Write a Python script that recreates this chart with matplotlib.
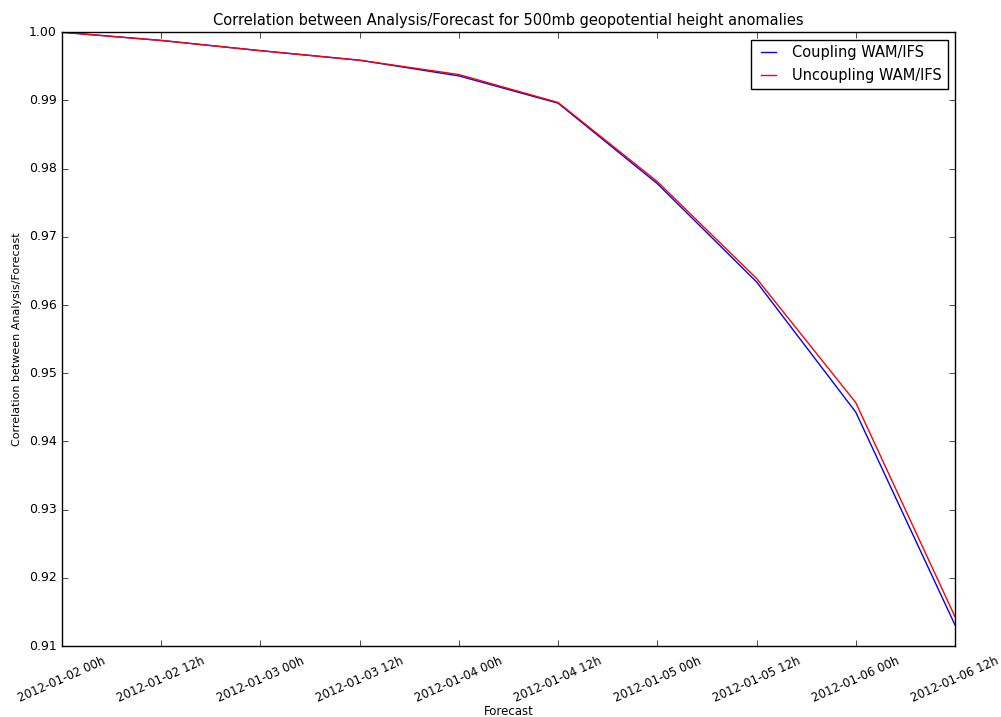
import numpy as np
import matplotlib
matplotlib.use('Agg')
import matplotlib.pyplot as plt

plt.style.use('classic')

# forecast steps (12h apart) and correlation scores read per step
steps = ['2012-01-02 00h', '2012-01-02 12h', '2012-01-03 00h', '2012-01-03 12h',
         '2012-01-04 00h', '2012-01-04 12h', '2012-01-05 00h', '2012-01-05 12h',
         '2012-01-06 00h', '2012-01-06 12h']
coupled = [1.0000, 0.9988, 0.9973, 0.9959, 0.9936, 0.9896, 0.9778, 0.9634, 0.9443, 0.9131]
uncoupled = [1.0000, 0.9988, 0.9973, 0.9959, 0.9938, 0.9897, 0.9781, 0.9639, 0.9457, 0.9143]

fig = plt.figure(figsize=(10.01, 7.17), dpi=100, facecolor='white')
ax = fig.add_axes([0.062, 0.099, 0.892, 0.856])
x = np.arange(len(steps))
ax.plot(x, coupled, color='b', lw=1, label='Coupling WAM/IFS')
ax.plot(x, uncoupled, color='r', lw=1, label='Uncoupling WAM/IFS')

ax.set_xlim(0, len(steps) - 1)
ax.set_ylim(0.91, 1.00)
ax.set_yticks(np.arange(0.91, 1.001, 0.01))
ax.yaxis.set_major_formatter(matplotlib.ticker.FormatStrFormatter('%.2f'))
ax.set_xticks(x)
ax.set_xticklabels(steps, rotation=24, fontsize=8.5, ha='center')
ax.tick_params(axis='x', pad=6)
ax.tick_params(axis='y', labelsize=9)
ax.set_title('Correlation between Analysis/Forecast for 500mb geopotential height anomalies', fontsize=10.5)
ax.set_xlabel('Forecast', fontsize=8.5, labelpad=0)
ax.set_ylabel('Correlation between Analysis/Forecast', fontsize=8)
leg = ax.legend(loc='upper right', fontsize=10.5, handlelength=1.6)

fig.savefig('out.png', dpi=100, facecolor='white')
